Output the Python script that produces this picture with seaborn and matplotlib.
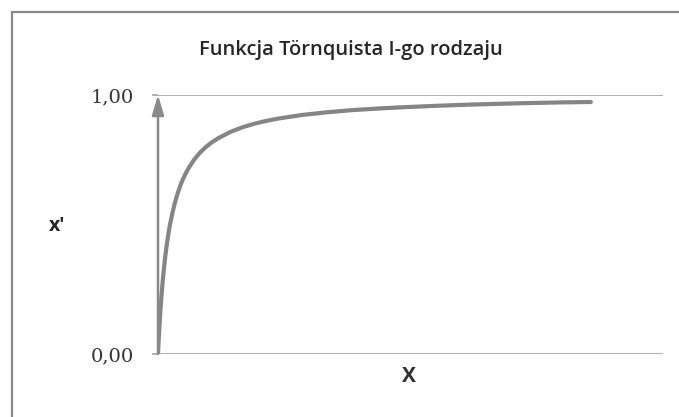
import numpy as np
import pandas as pd
import seaborn as sns
import matplotlib.pyplot as plt
from matplotlib.patches import Rectangle

# values (x in units of the curve's half-saturation point)
x_vals = [0, 0.02, 0.05, 0.1, 0.15, 0.2, 0.3, 0.4, 0.5, 0.6, 0.75, 0.9, 1,
          1.2, 1.4, 1.6, 1.8, 2, 2.3, 2.6, 3, 3.5, 4, 4.5, 5, 6, 7, 8, 9, 10,
          12, 14, 16, 18, 20, 23, 26, 30, 33, 36]
y_vals = [0, 0.02, 0.048, 0.091, 0.13, 0.167, 0.231, 0.286, 0.333, 0.375,
          0.429, 0.474, 0.50, 0.545, 0.583, 0.615, 0.643, 0.667, 0.697, 0.722,
          0.75, 0.778, 0.80, 0.818, 0.833, 0.857, 0.875, 0.889, 0.90, 0.909,
          0.923, 0.933, 0.941, 0.947, 0.952, 0.958, 0.963, 0.968, 0.971, 0.973]
y_ticks = [0, 1]
y_tick_labels = ['0,00', '1,00']
title = 'Funkcja Törnquista I-go rodzaju'

df = pd.DataFrame({'x': x_vals, 'y': y_vals})

sns.set_theme(style='white')
plt.rcParams['font.family'] = ['Open Sans', 'DejaVu Sans']

fig = plt.figure(figsize=(6.79, 4.17), dpi=100)
fig.patch.set_facecolor('white')

# outer chart frame (runs off the right and bottom edges)
fig.patches.append(Rectangle((12 / 679, -0.1), 1.0, 1 - 12 / 417 + 0.1,
                             transform=fig.transFigure, fill=False,
                             edgecolor='#8a8a8a', linewidth=1.6))

ax = fig.add_axes([158 / 679, 63 / 417, 505 / 679, 259 / 417])
ax.set_facecolor('none')

sns.lineplot(data=df, x='x', y='y', color='#858585', linewidth=3.0,
             ax=ax, solid_capstyle='round', solid_joinstyle='round')

ax.set_xlim(0, 42)
ax.set_ylim(0, 1)
for s in ax.spines.values():
    s.set_visible(False)

ax.axhline(1, color='#9a9a9a', linewidth=1.1, zorder=0)
ax.axhline(0, color='#9a9a9a', linewidth=1.1, zorder=0)

ax.annotate('', xy=(0, 1), xytext=(0, 0),
            arrowprops=dict(arrowstyle='-|>,head_length=0.6,head_width=0.18',
                            color='#8a8a8a', lw=1.8, mutation_scale=20,
                            shrinkA=0, shrinkB=0))

ax.set_xticks([])
ax.set_yticks(y_ticks)
ax.set_yticklabels(y_tick_labels, family='DejaVu Serif', fontsize=14,
                   color='#333333')
ax.tick_params(axis='y', left=True, length=4.5, width=1.1, color='#9a9a9a',
               pad=13)
ax.set_xlabel('')
ax.set_ylabel('')

fig.text(351 / 679, 1 - 50 / 417, title, ha='center', va='center',
         fontsize=14.5, fontweight='semibold', color='#262626')
fig.text(57 / 679, 1 - 226 / 417, "x'", ha='center', va='center',
         fontsize=14, fontweight='bold', color='#262626')
fig.text(409 / 679, 1 - 376 / 417, 'X', ha='center', va='center',
         fontsize=15, fontweight='bold', color='#303030')

fig.savefig('out.png', dpi=100, facecolor='white')
